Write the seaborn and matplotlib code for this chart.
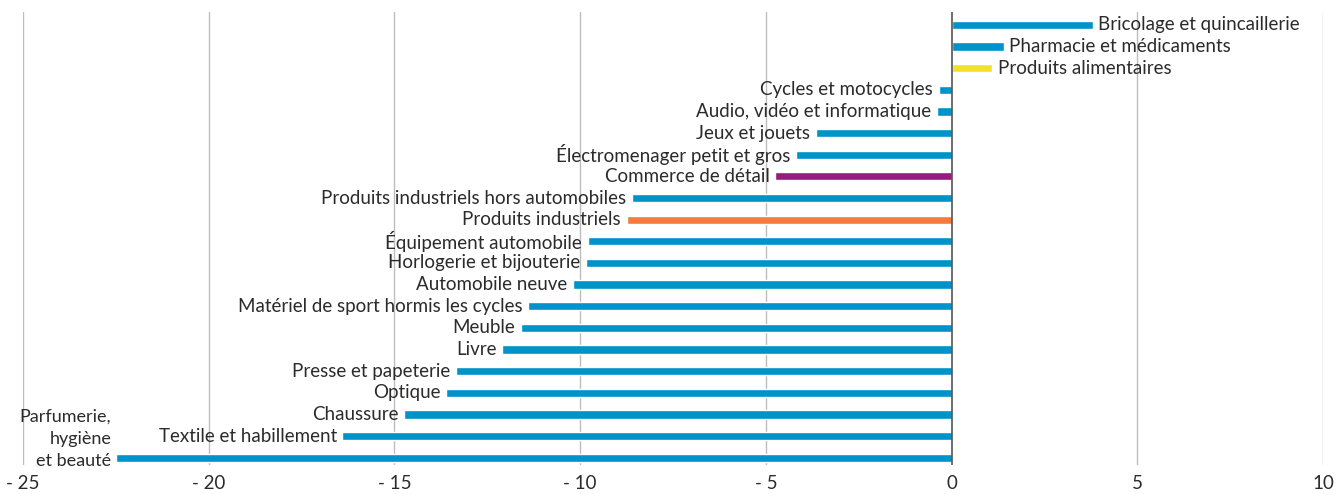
import matplotlib
matplotlib.use('Agg')
import matplotlib.pyplot as plt
import seaborn as sns
import pandas as pd

# Data
categories = [
    'Bricolage et quincaillerie', 'Pharmacie et médicaments', 'Produits alimentaires',
    'Cycles et motocycles', 'Audio, vidéo et informatique', 'Jeux et jouets',
    'Électromenager petit et gros', 'Commerce de détail',
    'Produits industriels hors automobiles', 'Produits industriels',
    'Équipement automobile', 'Horlogerie et bijouterie', 'Automobile neuve',
    'Matériel de sport hormis les cycles', 'Meuble', 'Livre',
    'Presse et papeterie', 'Optique', 'Chaussure', 'Textile et habillement',
    'Parfumerie,\nhygiène\net beauté',
]
values = [3.8, 1.4, 1.1, -0.35, -0.4, -3.65, -4.2, -4.75, -8.6, -8.75,
          -9.8, -9.85, -10.2, -11.4, -11.6, -12.1, -13.35, -13.6, -14.75, -16.4, -22.5]
bar_colors = ['#0093c9', '#0093c9', '#f2e12b', '#0093c9', '#0093c9', '#0093c9',
              '#0093c9', '#951b7e', '#0093c9', '#f47b3d', '#0093c9', '#0093c9',
              '#0093c9', '#0093c9', '#0093c9', '#0093c9', '#0093c9', '#0093c9',
              '#0093c9', '#0093c9', '#0093c9']
xticks = [-25, -20, -15, -10, -5, 0, 5, 10]
xtick_labels = ['- 25', '- 20', '- 15', '- 10', '- 5', '0', '5', '10']

df = pd.DataFrame({'categorie': categories, 'valeur': values})

sns.set_style('white')
plt.rcParams['font.family'] = ['Lato', 'DejaVu Sans']
text_color = '#2b2b2b'
fs = 13.5

fig = plt.figure(figsize=(13.41, 4.94), dpi=100)
ax = fig.add_axes([0.0172, 0.058, 0.9694, 0.918])

sns.barplot(data=df, x='valeur', y='categorie', hue='categorie',
            palette=dict(zip(categories, bar_colors)), legend=False,
            orient='h', width=0.38, saturation=1, ax=ax)

ax.set_xlim(-25, 10)
ax.set_ylim(20.35, -0.6)
ax.set_xticks(xticks)
ax.set_xticklabels(xtick_labels, fontsize=fs, color=text_color)
ax.set_yticks([])
ax.set_xlabel('')
ax.set_ylabel('')
ax.tick_params(axis='x', length=0, pad=7)
for s in ax.spines.values():
    s.set_visible(False)

for x in xticks:
    if x == 0:
        ax.axvline(0, color='#555555', lw=1.2, zorder=3)
    else:
        ax.axvline(x, color='#bdbdbd', lw=1, zorder=0)

# labels next to bar ends
for i, (cat, v) in enumerate(zip(categories, values)):
    if '\n' in cat:
        ax.text(v - 0.12, i + 0.5, cat, ha='right', va='bottom', fontsize=13,
                color=text_color, linespacing=1.45)
    elif v >= 0:
        ax.text(v + 0.15, i, cat, ha='left', va='center', fontsize=fs, color=text_color)
    else:
        ax.text(v - 0.15, i, cat, ha='right', va='center', fontsize=fs, color=text_color)

plt.savefig('out.png', dpi=100)
